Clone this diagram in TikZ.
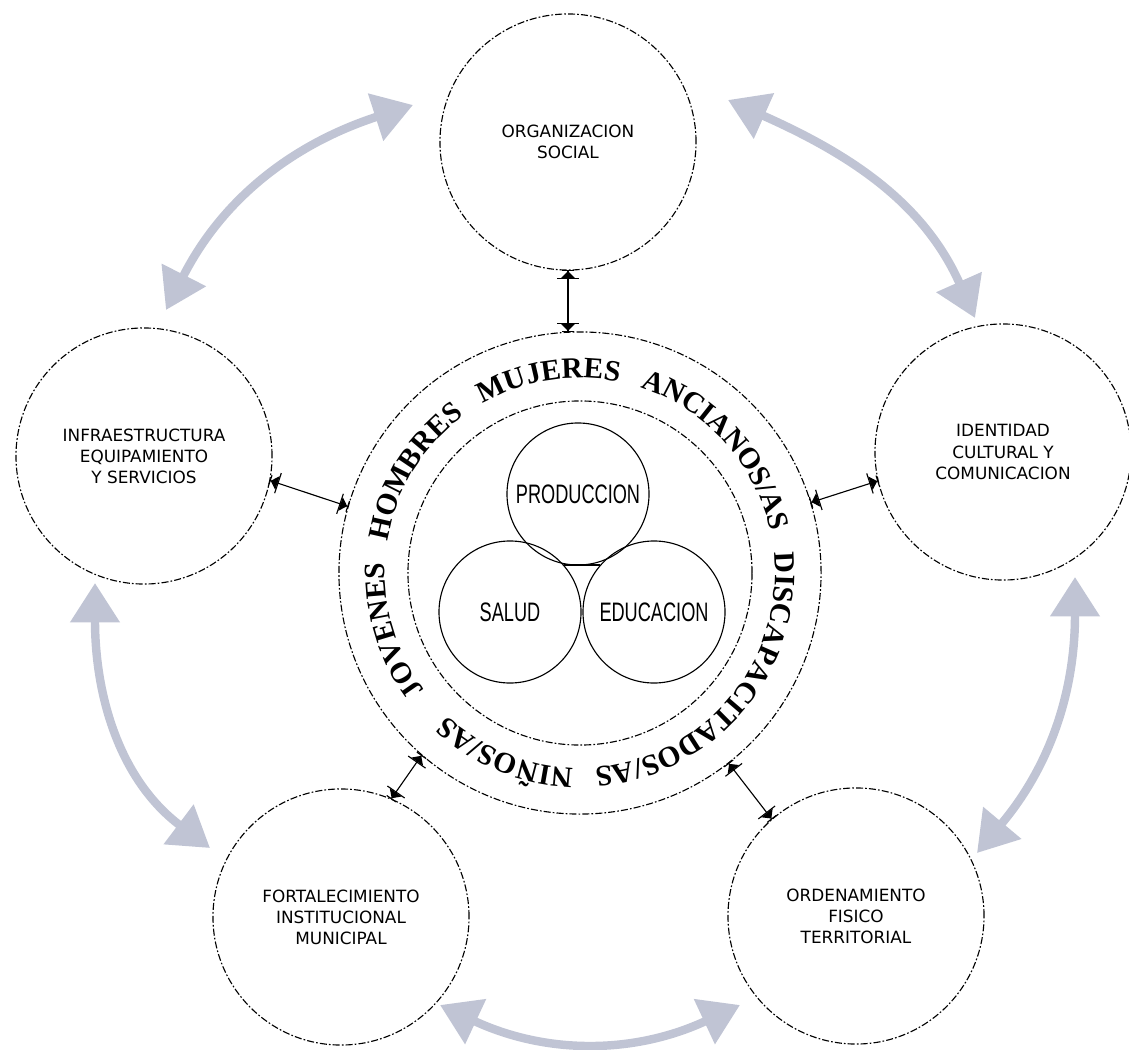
\documentclass[tikz,border=0pt]{standalone}
\usepackage{fontspec}
\setmainfont{DejaVu Sans}
\newfontfamily\ringfont{Liberation Serif}
\newfontfamily\narrowfont[FakeStretch=0.68]{Liberation Sans}
\usepackage{xcolor}
\usetikzlibrary{positioning,calc,arrows.meta,decorations.text}
\definecolor{cyclegray}{RGB}{192,196,212}

\begin{document}
\begin{tikzpicture}[x=0.025cm, y=0.025cm,
	topic/.style={circle, draw, line width=0.8pt, dash pattern=on 5pt off 1.5pt on 1.2pt off 1.5pt,
		minimum size=6.4cm, inner sep=0, outer sep=0, align=center, font=\fontsize{12}{15}\selectfont},
	ring/.style={circle, draw, line width=0.8pt, dash pattern=on 5pt off 1.5pt on 1.2pt off 1.5pt, inner sep=0, outer sep=0},
	area/.style={circle, draw, line width=0.8pt, minimum size=3.55cm, inner sep=0, outer sep=0,
		font=\narrowfont\fontsize{19}{20}\selectfont},
	link/.style={line width=0.8pt, {Bar[width=8pt]Triangle[length=5pt,width=10pt]Bar[width=15pt]}-{Bar[width=15pt]Triangle[length=5pt,width=10pt]Bar[width=8pt]}},
	roundarrow/.style={cyclegray, line width=6pt, {Triangle[length=28pt,width=34pt]}-{Triangle[length=28pt,width=34pt]}}
	]
	\useasboundingbox (0,0) rectangle (1129,-1050);

	% outer themes
	\node[topic] (org) at (568,-142) {ORGANIZACION\\SOCIAL};
	\node[topic] (infra) at (144,-456) {INFRAESTRUCTURA\\EQUIPAMIENTO\\Y SERVICIOS};
	\node[topic] (ident) at (1003,-452) {IDENTIDAD\\CULTURAL Y\\COMUNICACION};
	\node[topic] (fort) at (341,-917) {FORTALECIMIENTO\\INSTITUCIONAL\\MUNICIPAL};
	\node[topic] (orden) at (856,-916) {ORDENAMIENTO\\FISICO\\TERRITORIAL};

	% centre
	\node[ring, minimum size=12.05cm] (hub) at (580,-573) {};
	\node[ring, minimum size=8.6cm] (core) at (hub.center) {};
	\node[area] (prod) at (578,-494) {PRODUCCION};
	\node[area] (salud) at (510,-612) {SALUD};
	\node[area] (educ) at (654,-612) {EDUCACION};
	\draw[line width=0.8pt] ($(prod.south)+(-14,0)$) -- ($(prod.south)+(22,0)$);

	\path[decorate, decoration={text along path, text align={fit to path stretching spaces},
		text={|\ringfont\bfseries\fontsize{21}{21}\selectfont|JOVENES HOMBRES MUJERES ANCIANOS/AS DISCAPACITADOS/AS NIÑOS/AS}}]
		($(hub.center)+(217:195)$) arc[start angle=217, end angle=-133, radius=195];

	% links to the centre
	\draw[link] (org.south) -- (org.south |- hub.north);
	\draw[link] (infra.-11) -- (hub.164);
	\draw[link] (hub.17) -- (ident.193);
	\draw[link] (hub.229) -- (fort.67);
	\draw[link] (hub.-52) -- (orden.131);

	% cycle
	\coordinate (tl1) at (413,-105); \coordinate (tl2) at (166,-310);
	\coordinate (tr1) at (728,-100); \coordinate (tr2) at (975,-318);
	\coordinate (rb1) at (1075,-577); \coordinate (rb2) at (977,-853);
	\coordinate (bb1) at (740,-1005); \coordinate (bb2) at (440,-1005);
	\coordinate (bl1) at (210,-848); \coordinate (bl2) at (95,-583);
	\draw[roundarrow] (tl1) to[out=198, in=63] (tl2);
	\draw[roundarrow] (tr1) to[out=-24, in=114] (tr2);
	\draw[roundarrow] (rb1) to[out=-90, in=50] (rb2);
	\draw[roundarrow] (bb2) to[out=-25, in=205] (bb1);
	\draw[roundarrow] (bl2) to[out=-90, in=143] (bl1);
\end{tikzpicture}
\end{document}
